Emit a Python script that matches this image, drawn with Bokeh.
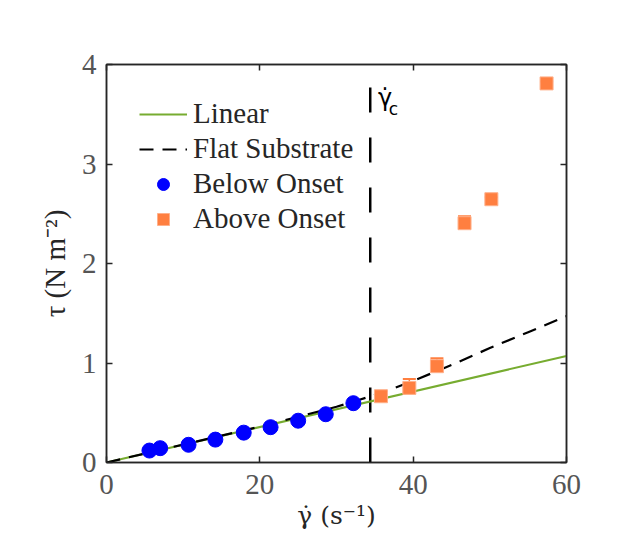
from bokeh.plotting import figure
from bokeh.models import LinearAxis, Range1d, ColumnDataSource, FixedTicker, Legend
from bokeh.embed import file_html
from bokeh.resources import INLINE
from bokeh.core.properties import value

# ---- data ----
linear_x = [0, 60]
linear_y = [0, 1.07]

flat_x = [0, 5, 10, 15, 20, 25, 30, 33, 36.6, 40, 45, 50, 55, 60]
flat_y = [0, 0.09, 0.18, 0.27, 0.36, 0.46, 0.56, 0.63, 0.72, 0.82, 0.98, 1.15, 1.31, 1.47]

below_x = [5.6, 7.0, 10.7, 14.2, 17.9, 21.4, 25.0, 28.6, 32.2]
below_y = [0.12, 0.144, 0.178, 0.23, 0.30, 0.355, 0.42, 0.485, 0.596]

above_x = [35.8, 39.5, 43.1, 46.7, 50.2, 57.4]
above_y = [0.666, 0.75, 0.968, 2.405, 2.646, 3.81]
above_err = [0.02, 0.09, 0.08, 0.07, 0.02, 0.02]

onset_x = 34.4

x_ticks = [0, 20, 40, 60]
y_ticks = [0, 1, 2, 3, 4]

SERIF = "Liberation Serif"
AX = "#262626"
TICKC = "#555555"
GREEN = "#77AC30"
BLUE = "#0000FF"
ORANGE = "#FF7F40"

p = figure(width=614, height=552, output_backend="svg", toolbar_location=None,
           x_range=Range1d(0, 60), y_range=Range1d(0, 4),
           min_border_left=106, min_border_right=48, min_border_top=64, min_border_bottom=90)
p.xgrid.visible = False
p.ygrid.visible = False
p.background_fill_color = "white"
p.outline_line_color = AX
p.outline_line_width = 1.5

def style_axis(ax, ticks, show_labels=True):
    ax.ticker = FixedTicker(ticks=ticks)
    ax.major_tick_in = 6
    ax.major_tick_out = 0
    ax.minor_tick_line_color = None
    ax.axis_line_color = AX
    ax.axis_line_width = 1.5
    ax.major_tick_line_color = AX
    ax.major_tick_line_width = 1.5
    ax.major_label_text_font = SERIF
    ax.major_label_text_color = TICKC
    ax.major_label_text_font_size = "29px"
    if not show_labels:
        ax.major_label_overrides = {t: "" for t in ticks}
        ax.major_label_standoff = 0

xax = p.xaxis[0]
yax = p.yaxis[0]
style_axis(xax, x_ticks)
style_axis(yax, y_ticks)
xax.major_label_standoff = 12
yax.major_label_standoff = 10

top = LinearAxis()
right = LinearAxis()
style_axis(top, x_ticks, False)
style_axis(right, y_ticks, False)
p.add_layout(top, "above")
p.add_layout(right, "right")

xax.axis_label = "γ̇ (s⁻¹)"
yax.axis_label = "τ (N m⁻²)"
for ax in (xax, yax):
    ax.axis_label_text_font = SERIF
    ax.axis_label_text_font_size = "29px"
    ax.axis_label_text_font_style = "normal"
    ax.axis_label_text_color = AX
xax.axis_label_text_font = "DejaVu Serif"
xax.axis_label_text_font_size = "25px"
xax.axis_label_standoff = 4
yax.axis_label_standoff = 8

# onset vertical line
p.line([onset_x, onset_x], [0, 4], line_color="black", line_width=2.5, line_dash="25 25")

r_lin = p.line(linear_x, linear_y, line_color=GREEN, line_width=2)
r_flat = p.line(flat_x, flat_y, line_color="black", line_width=2.2, line_dash="14 9")

# error bars (upper caps)
src_err = ColumnDataSource(dict(x=above_x, y=above_y,
                                top=[a + e for a, e in zip(above_y, above_err)]))
p.segment(x0="x", y0="y", x1="x", y1="top", source=src_err, line_color=ORANGE, line_width=1.5)
p.scatter(x="x", y="top", source=src_err, marker="dash", size=13, line_color=ORANGE, line_width=2)

r_below = p.scatter(below_x, below_y, marker="circle", size=15, fill_color=BLUE, line_color=BLUE)
r_above = p.scatter(above_x, above_y, marker="square", size=13, fill_color=ORANGE,
                    line_color="#FFB08A", line_width=1)

# gamma_c label
p.text(x=[onset_x + 1.0], y=[3.66], text=["γ̇"], text_font=value("DejaVu Sans"),
       text_font_size="24px", text_color="black", text_baseline="middle", text_align="left")
p.text(x=[onset_x + 2.4], y=[3.55], text=["c"], text_font=value("DejaVu Sans"),
       text_font_size="17px", text_color="black", text_baseline="middle", text_align="left")

legend = Legend(items=[("Linear", [r_lin]), ("Flat Substrate", [r_flat]),
                       ("Below Onset", [r_below]), ("Above Onset", [r_above])],
                location="top_left")
legend.label_text_font = SERIF
legend.label_text_font_size = "29px"
legend.label_text_color = AX
legend.background_fill_alpha = 0
legend.border_line_alpha = 0
legend.glyph_width = 48
legend.glyph_height = 30
legend.label_height = 30
legend.spacing = 2
legend.margin = 24
legend.padding = 9
legend.label_standoff = 6
p.add_layout(legend)

open("out.html", "w").write(file_html(p, INLINE))
